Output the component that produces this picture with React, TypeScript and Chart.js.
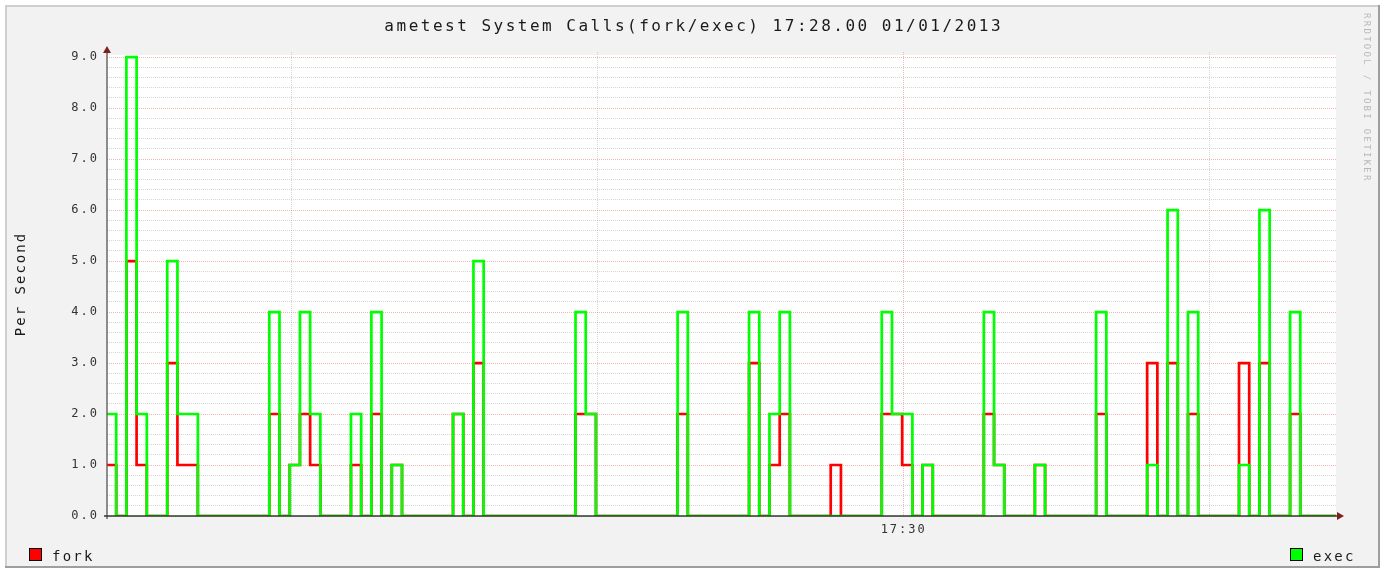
import React, { useEffect, useRef } from 'react';
import { Chart, registerables } from 'chart.js';

Chart.register(...registerables);

const CANVAS_W = 1385;
const CANVAS_H = 569;

const TITLE = 'ametest System Calls(fork/exec) 17:28.00 01/01/2013';
const Y_LABEL = 'Per Second';
const WATERMARK = 'RRDTOOL / TOBI OETIKER';
const SERIES_NAMES = ['fork', 'exec'];
const SERIES_COLORS = ['#ff0000', '#00ff00'];

// one value per sampling step; the first entry is the step just before the window
const STEP_START = -1;
const EXEC = [
  0,
  2, 0, 9, 2, 0, 0, 5, 2, 2, 0,
  0, 0, 0, 0, 0, 0, 4, 0, 1, 4,
  2, 0, 0, 0, 2, 0, 4, 0, 1, 0,
  0, 0, 0, 0, 2, 0, 5, 0, 0, 0,
  0, 0, 0, 0, 0, 0, 4, 2, 0, 0,
  0, 0, 0, 0, 0, 0, 4, 0, 0, 0,
  0, 0, 0, 4, 0, 2, 4, 0, 0, 0,
  0, 0, 0, 0, 0, 0, 4, 2, 2, 0,
  1, 0, 0, 0, 0, 0, 4, 1, 0, 0,
  0, 1, 0, 0, 0, 0, 0, 4, 0, 0,
  0, 0, 1, 0, 6, 0, 4, 0, 0, 0,
  0, 1, 0, 6, 0, 0, 4, 0, 0, 0,
  0, 0,
];
const FORK = [
  0,
  1, 0, 5, 1, 0, 0, 3, 1, 1, 0,
  0, 0, 0, 0, 0, 0, 2, 0, 1, 2,
  1, 0, 0, 0, 1, 0, 2, 0, 1, 0,
  0, 0, 0, 0, 2, 0, 3, 0, 0, 0,
  0, 0, 0, 0, 0, 0, 2, 2, 0, 0,
  0, 0, 0, 0, 0, 0, 2, 0, 0, 0,
  0, 0, 0, 3, 0, 1, 2, 0, 0, 0,
  0, 1, 0, 0, 0, 0, 2, 2, 1, 0,
  1, 0, 0, 0, 0, 0, 2, 1, 0, 0,
  0, 1, 0, 0, 0, 0, 0, 2, 0, 0,
  0, 0, 3, 0, 3, 0, 2, 0, 0, 0,
  0, 3, 0, 3, 0, 0, 2, 0, 0, 0,
  0, 0,
];

const X_MIN = 0.1;
const X_MAX = 120.5;
const X_TICK_VALUES = [18.15, 48.15, 78.15, 108.15];
const X_TICK_LABELS = ['', '', '17:30', ''];

const Y_MIN = 0;
const Y_MAX = 9.1;
const Y_MAJOR_VALUES = [0, 1, 2, 3, 4, 5, 6, 7, 8, 9];
const Y_TICK_LABELS = ['0.0', '1.0', '2.0', '3.0', '4.0', '5.0', '6.0', '7.0', '8.0', '9.0'];
const Y_MINOR_PER_MAJOR = 5;

const FONT = '"DejaVu Sans Mono", "Liberation Mono", monospace';
const MAJOR_GRID = 'rgba(235, 90, 90, 0.45)';
const MINOR_GRID = 'rgba(150, 150, 150, 0.4)';

const toPoints = (vals: number[]) => vals.map((v, i) => ({ x: STEP_START + i, y: v }));

const isMajorY = (v: number) => Math.abs(v - Math.round(v)) < 1e-6;

const rrdPlugin = {
  id: 'rrdLook',
  beforeDraw(chart: any) {
    const { ctx, chartArea } = chart;
    ctx.save();
    ctx.fillStyle = '#ffffff';
    ctx.fillRect(0, 0, CANVAS_W, CANVAS_H);
    ctx.fillStyle = '#f2f2f2';
    ctx.fillRect(5, 5, 1375, 563);
    ctx.fillStyle = '#cfcfcf';
    ctx.fillRect(5, 5, 1375, 2);
    ctx.fillRect(5, 5, 2, 563);
    ctx.fillStyle = '#9e9e9e';
    ctx.fillRect(5, 566, 1375, 2);
    ctx.fillRect(1378, 5, 2, 563);
    ctx.fillStyle = '#ffffff';
    ctx.fillRect(
      chartArea.left,
      chartArea.top + 3,
      chartArea.right - chartArea.left,
      chartArea.bottom - chartArea.top - 3
    );
    ctx.restore();
    ctx.letterSpacing = '2px';
  },
  afterDatasetsDraw(chart: any) {
    const { ctx, chartArea } = chart;
    const { left, right, top, bottom } = chartArea;
    ctx.save();
    ctx.strokeStyle = 'rgba(90, 90, 90, 0.9)';
    ctx.lineWidth = 1.5;
    ctx.beginPath();
    ctx.moveTo(left, bottom + 3);
    ctx.lineTo(left, top - 2);
    ctx.stroke();
    ctx.strokeStyle = 'rgba(40, 60, 40, 0.75)';
    ctx.lineWidth = 2;
    ctx.beginPath();
    ctx.moveTo(left - 3, bottom);
    ctx.lineTo(right + 2, bottom);
    ctx.stroke();
    ctx.fillStyle = '#7f1f1f';
    ctx.beginPath();
    ctx.moveTo(left, top - 6);
    ctx.lineTo(left - 4, top + 1);
    ctx.lineTo(left + 4, top + 1);
    ctx.closePath();
    ctx.fill();
    ctx.beginPath();
    ctx.moveTo(right + 8, bottom);
    ctx.lineTo(right + 1, bottom - 4);
    ctx.lineTo(right + 1, bottom + 4);
    ctx.closePath();
    ctx.fill();
    ctx.restore();
  },
  afterDraw(chart: any) {
    const { ctx } = chart;
    ctx.save();
    ctx.fillStyle = '#1a1a1a';
    ctx.textAlign = 'center';
    ctx.textBaseline = 'alphabetic';
    ctx.font = `16px ${FONT}`;
    ctx.letterSpacing = '2.5px';
    ctx.fillText(TITLE, CANVAS_W / 2 + 1.25, 31);

    // legend
    ctx.font = `14px ${FONT}`;
    ctx.letterSpacing = '2.2px';
    ctx.textAlign = 'left';
    const items = [
      { x: 29, name: SERIES_NAMES[0], color: SERIES_COLORS[0] },
      { x: 1290, name: SERIES_NAMES[1], color: SERIES_COLORS[1] },
    ];
    items.forEach((it) => {
      ctx.fillStyle = it.color;
      ctx.fillRect(it.x, 548, 13, 13);
      ctx.strokeStyle = '#000';
      ctx.lineWidth = 1;
      ctx.strokeRect(it.x + 0.5, 548.5, 12, 12);
      ctx.fillStyle = '#1a1a1a';
      ctx.fillText(it.name, it.x + 23, 561);
    });

    // watermark
    ctx.translate(1366, 13);
    ctx.rotate(Math.PI / 2);
    ctx.font = `9px ${FONT}`;
    ctx.letterSpacing = '2.3px';
    ctx.textBaseline = 'middle';
    ctx.fillStyle = '#b8b8b8';
    ctx.fillText(WATERMARK, 0, 0);
    ctx.restore();
  },
};

export default function App() {
  const ref = useRef<HTMLCanvasElement>(null);

  useEffect(() => {
    const canvas = ref.current;
    if (!canvas) return;
    const chart = new Chart(canvas, {
      type: 'line',
      data: {
        datasets: [
          {
            label: SERIES_NAMES[1],
            data: toPoints(EXEC),
            borderColor: SERIES_COLORS[1],
            backgroundColor: SERIES_COLORS[1],
            borderWidth: 2.7,
            stepped: 'before',
            pointRadius: 0,
            fill: false,
            borderJoinStyle: 'miter',
            borderCapStyle: 'butt',
          },
          {
            label: SERIES_NAMES[0],
            data: toPoints(FORK),
            borderColor: SERIES_COLORS[0],
            backgroundColor: SERIES_COLORS[0],
            borderWidth: 2.7,
            stepped: 'before',
            pointRadius: 0,
            fill: false,
            borderJoinStyle: 'miter',
            borderCapStyle: 'butt',
          },
        ],
      },
      options: {
        responsive: false,
        animation: false,
        devicePixelRatio: 1,
        layout: { padding: { left: 0, right: 49, top: 52, bottom: 0 } },
        plugins: {
          legend: { display: false },
          title: { display: false },
          tooltip: { enabled: false },
        },
        scales: {
          x: {
            type: 'linear',
            position: 'bottom',
            min: X_MIN,
            max: X_MAX,
            bounds: 'data',
            afterBuildTicks: (scale: any) => {
              scale.ticks = X_TICK_VALUES.map((v) => ({ value: v }));
            },
            afterFit: (scale: any) => {
              scale.height = 53;
            },
            grid: {
              drawTicks: false,
              lineWidth: 1,
              color: (c: any) => {
                const i = X_TICK_VALUES.indexOf(c.tick ? c.tick.value : NaN);
                return i >= 0 && X_TICK_LABELS[i] ? MAJOR_GRID : MINOR_GRID;
              },
            },
            border: { display: false, dash: [1, 1] },
            ticks: {
              autoSkip: false,
              maxRotation: 0,
              padding: 7,
              color: '#333',
              font: { family: FONT, size: 12 },
              callback: (_v: any, i: number) => X_TICK_LABELS[i],
            },
          },
          y: {
            type: 'linear',
            position: 'left',
            min: Y_MIN,
            max: Y_MAX,
            bounds: 'data',
            afterBuildTicks: (scale: any) => {
              const ticks: { value: number }[] = [];
              for (let i = 0; i < Y_MAJOR_VALUES.length - 1; i++) {
                for (let j = 0; j < Y_MINOR_PER_MAJOR; j++) {
                  ticks.push({ value: Y_MAJOR_VALUES[i] + j / Y_MINOR_PER_MAJOR });
                }
              }
              ticks.push({ value: Y_MAJOR_VALUES[Y_MAJOR_VALUES.length - 1] });
              scale.ticks = ticks;
            },
            afterFit: (scale: any) => {
              scale.width = 107;
            },
            grid: {
              drawTicks: false,
              lineWidth: 1,
              color: (c: any) => (c.tick && isMajorY(c.tick.value) ? MAJOR_GRID : MINOR_GRID),
            },
            border: { display: false, dash: [1, 1] },
            ticks: {
              autoSkip: false,
              padding: 8,
              color: '#333',
              font: { family: FONT, size: 12 },
              callback: (v: any) => {
                const n = Number(v);
                return isMajorY(n) ? Y_TICK_LABELS[Y_MAJOR_VALUES.indexOf(Math.round(n))] : '';
              },
            },
            title: {
              display: true,
              text: Y_LABEL,
              color: '#1a1a1a',
              font: { family: FONT, size: 14 },
              padding: { top: 13, bottom: 0 },
            },
          },
        },
      },
      plugins: [rrdPlugin],
    } as any);
    return () => chart.destroy();
  }, []);

  return (
    <div style={{ position: 'absolute', left: 0, top: 0, width: CANVAS_W, height: CANVAS_H }}>
      <canvas
        ref={ref}
        width={CANVAS_W}
        height={CANVAS_H}
        style={{ display: 'block', width: CANVAS_W, height: CANVAS_H }}
      />
    </div>
  );
}
